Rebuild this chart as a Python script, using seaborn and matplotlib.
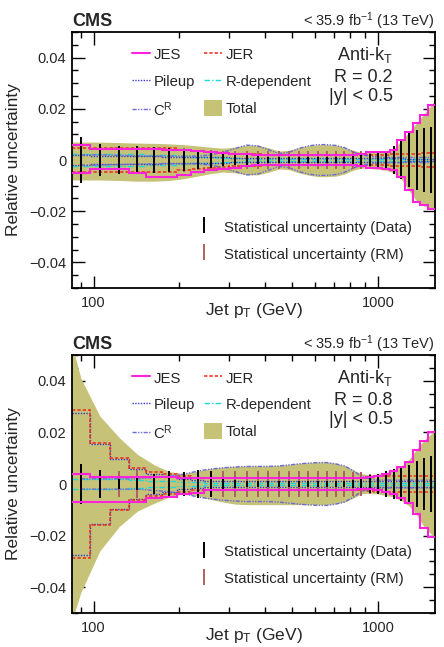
import numpy as np
import pandas as pd
import matplotlib
matplotlib.use("Agg")
import matplotlib.pyplot as plt
import seaborn as sns
from matplotlib.lines import Line2D
from matplotlib.patches import Patch
from matplotlib.ticker import MultipleLocator, FixedLocator, LogLocator, NullFormatter, FuncFormatter

# jet pT bin edges (GeV)
pt_edges = [84, 97, 114, 133, 153, 174, 196, 220, 245, 272, 300, 330, 362, 395, 430, 468,
            507, 548, 592, 638, 686, 737, 790, 846, 905, 967, 1032, 1101, 1172, 1248, 1327,
            1410, 1497, 1588]

# ---- R = 0.2 (values in units of 1e-3) ----
jes_up_r02 = [5.8, 4.2, 4.2, 4.2, 4.2, 4.0, 3.8, 3.5, 3.0, 2.8, 2.5, 2.2, 2.0, 1.8, 1.8, 1.8, 1.8,
              1.8, 1.8, 1.8, 1.8, 1.8, 1.8, 2.5, 3.0, 3.2, 3.3, 4.0, 7.8, 11.0, 14.5, 17.6, 21.6]
jes_dn_r02 = [5.0, 3.7, 3.7, 5.0, 6.5, 6.5, 6.0, 4.5, 4.0, 3.5, 3.0, 2.5, 2.0, 2.0, 2.0, 2.0, 2.0,
              2.0, 2.0, 2.0, 2.0, 2.0, 2.0, 2.5, 3.0, 3.3, 3.5, 4.0, 6.5, 11.8, 16.3, 17.6, 19.0]
jer_r02 = [4.5, 4.5, 4.5, 4.5, 4.8, 4.5, 4.0, 3.5, 3.0, 2.8, 2.5, 2.3, 2.2, 2.0, 2.0, 2.0, 2.0,
           2.0, 2.0, 2.0, 2.0, 2.0, 2.0, 2.0, 2.0, 2.0, 2.0, 2.2, 2.3, 2.4, 2.5, 2.6, 2.7]
pileup_r02 = [1.8, 1.6, 1.5, 1.5, 1.4, 1.3, 1.2, 1.2, 1.0, 1.0, 0.9, 0.9, 0.8, 0.8, 0.8, 0.8, 0.8,
              0.8, 0.8, 0.8, 0.8, 0.8, 0.8, 0.7, 0.7, 0.7, 0.6, 0.6, 0.6, 0.5, 0.5, 0.5, 0.5]
rdep_r02 = [2.5, 2.5, 2.3, 2.2, 2.0, 1.8, 1.5, 1.2, 1.0, 0.8, 0.6, 0.5, 0.5, 0.5, 0.5, 0.5, 0.5,
            0.5, 0.5, 0.5, 0.5, 0.5, 0.5, 0.5, 0.5, 0.5, 0.5, 0.5, 0.5, 0.5, 0.5, 0.5, 0.5]
cr_r02 = [2.0, 2.0, 1.8, 1.6, 1.5, 1.5, 1.5, 1.5, 2.0, 3.0, 4.5, 5.8, 5.5, 4.0, 2.5, 3.0, 4.5,
          5.5, 6.0, 6.0, 5.7, 4.8, 3.2, 2.0, 1.5, 1.2, 1.0, 1.0, 1.0, 1.0, 1.0, 1.0, 1.0]
# total band: first/last entries at the outer bin edges, the rest at bin centres
total_up_r02 = [7.0, 7.0, 7.0, 6.8, 6.6, 6.5, 6.3, 6.0, 5.5, 5.0, 4.6, 5.0, 5.8, 5.8, 4.8, 3.5, 3.8,
                4.8, 5.6, 6.0, 6.0, 5.8, 5.0, 3.8, 3.0, 3.0, 3.3, 3.6, 4.5, 7.5, 11.0, 14.5, 18.0,
                21.5, 23.5]
total_dn_r02 = [7.8, 7.8, 7.8, 8.0, 8.3, 8.3, 8.0, 7.3, 6.3, 5.3, 4.7, 5.0, 5.8, 5.8, 4.8, 3.5, 3.8,
                5.0, 5.9, 6.5, 6.5, 6.3, 5.5, 4.0, 3.2, 3.3, 3.6, 4.0, 5.0, 7.5, 12.0, 16.0, 18.0,
                19.0, 20.0]
stat_data_r02 = [9.0, 6.3, 5.5, 5.4, 5.0, 4.5, 4.3, 3.5, 3.0, 2.5, 2.0, 1.8, 1.5, 1.2, 1.0, 1.0, 1.0,
                 1.0, 1.0, 1.0, 1.0, 1.2, 1.5, 1.8, 2.2, 2.8, 3.5, 5.5, 7.5, 10.5, 11.8, 12.4, 12.7]
stat_rm_r02 = [8.0, 6.0, 5.5, 5.5, 5.0, 4.8, 4.5, 4.0, 3.8, 3.5, 3.5, 3.5, 3.5, 3.5, 3.5, 3.5, 3.5,
               3.5, 3.5, 3.5, 3.5, 3.5, 3.5, 3.5, 3.5, 3.5, 3.5, 3.5, 3.5, 3.5, 3.5, 3.5, 3.5]

# ---- R = 0.8 (values in units of 1e-3) ----
jes_up_r08 = [4.0, 2.7, 2.7, 2.7, 2.7, 2.7, 2.3, 2.2, 2.2, 2.2, 2.2, 2.2, 2.2, 2.2, 2.2, 2.2, 2.2,
              2.2, 2.2, 2.2, 2.2, 2.2, 2.2, 2.5, 2.8, 3.0, 4.0, 5.0, 6.5, 8.5, 13.0, 16.6, 20.0]
jes_dn_r08 = [7.0, 7.0, 7.0, 7.0, 5.5, 5.0, 4.0, 3.3, 2.5, 2.5, 2.5, 2.5, 2.5, 2.5, 2.5, 2.5, 2.5,
              2.5, 2.5, 2.5, 2.5, 2.5, 2.3, 2.0, 2.0, 2.2, 3.0, 4.0, 5.5, 7.5, 11.5, 17.0, 20.5]
jer_r08 = [28.7, 16.0, 10.0, 6.3, 4.7, 3.7, 3.0, 2.5, 2.5, 2.5, 2.5, 2.5, 2.5, 2.5, 2.5, 2.5, 2.5,
           2.5, 2.5, 2.5, 2.5, 2.5, 2.5, 2.5, 2.7, 3.0, 3.0, 3.0, 3.0, 3.0, 3.0, 3.0, 3.0]
pileup_r08 = [27.5, 15.5, 9.5, 6.0, 4.0, 3.0, 2.0, 1.5, 1.2, 1.0, 1.0, 1.0, 1.0, 1.0, 1.0, 1.0, 1.0,
              1.0, 1.0, 1.0, 1.0, 1.0, 1.0, 1.0, 1.0, 1.0, 1.0, 1.0, 1.0, 1.0, 1.0, 1.0, 1.0]
rdep_r08 = [2.0, 2.0, 1.8, 1.5, 1.2, 1.0, 0.8, 0.6, 0.5, 0.5, 0.5, 0.5, 0.5, 0.5, 0.5, 0.5, 0.5,
            0.5, 0.5, 0.5, 0.5, 0.5, 0.5, 0.5, 0.5, 0.5, 0.5, 0.5, 0.5, 0.5, 0.5, 0.5, 0.5]
cr_r08 = [2.0, 2.0, 2.0, 2.0, 2.5, 3.0, 3.8, 5.0, 5.8, 6.3, 6.6, 6.8, 6.8, 6.8, 7.0, 7.4, 7.8,
          8.1, 8.3, 8.3, 7.8, 7.0, 5.2, 3.0, 2.0, 1.5, 1.5, 1.5, 1.5, 1.5, 1.5, 1.5, 1.5]
total_up_r08 = [54.0, 41.0, 26.4, 18.0, 11.5, 7.5, 4.8, 4.0, 5.0, 6.0, 6.5, 6.8, 7.0, 7.0, 7.0, 7.2,
                7.6, 8.0, 8.3, 8.5, 8.5, 8.0, 7.2, 5.5, 4.0, 3.6, 3.8, 4.5, 5.5, 7.0, 9.5, 13.5,
                17.0, 19.5, 21.0]
total_dn_r08 = [53.0, 42.0, 26.0, 16.5, 10.5, 7.5, 5.0, 3.8, 4.5, 6.0, 7.0, 7.8, 8.0, 8.0, 8.0, 8.0,
                8.0, 8.0, 8.0, 8.0, 8.0, 7.6, 7.0, 5.5, 3.8, 3.5, 3.8, 4.5, 5.0, 6.5, 8.5, 12.0,
                16.5, 19.5, 21.0]
stat_data_r08 = [7.8, 5.5, 2.0, 2.5, 4.0, 5.0, 4.8, 5.5, 5.0, 2.0, 1.5, 1.3, 1.2, 1.2, 1.2, 1.0, 1.0,
                 1.0, 1.0, 1.0, 1.0, 1.2, 1.5, 2.5, 3.5, 4.0, 5.0, 6.0, 6.5, 7.5, 9.0, 10.0, 11.0]
stat_rm_r08 = [7.5, 5.0, 5.0, 5.5, 3.0, 4.0, 4.0, 4.0, 4.5, 5.0, 5.0, 5.0, 5.0, 5.0, 5.0, 5.0, 5.0,
               5.0, 5.0, 5.0, 5.0, 5.0, 4.5, 4.5, 4.0, 4.0, 4.0, 4.0, 4.0, 4.0, 4.0, 4.0, 4.0]

# 🎨 Estilo
sns.set_theme(style="ticks")
plt.rcParams["font.family"] = ["Liberation Sans", "DejaVu Sans"]
plt.rcParams["mathtext.fontset"] = "custom"
plt.rcParams["mathtext.rm"] = "Liberation Sans"
plt.rcParams["mathtext.it"] = "Liberation Sans:italic"
plt.rcParams["mathtext.bf"] = "Liberation Sans:bold"

c_jes = "#ff22dd"
c_jer = "#ee2a1a"
c_pu = "#3a3ad0"
c_rdep = "#22d8d8"
c_cr = "#6a6ad8"
c_total = "#c6c278"
c_stat_rm = "#b06060"

ls_jer = (0, (2.2, 1.3))
ls_pu = (0, (1, 1))
ls_rdep = (0, (4, 1.5, 1, 1.5))
ls_cr = (0, (3, 1, 1, 1, 1, 1))

edges = np.array(pt_edges, dtype=float)
centers = np.sqrt(edges[:-1] * edges[1:])
band_pt = np.concatenate([[edges[0]], centers, [edges[-1]]])


def draw_panel(ax, jes_up, jes_dn, jer, pu, rdep, cr, tot_up, tot_dn, st_data, st_rm, rlabel):
    s = 1e-3
    ax.fill_between(band_pt, -np.array(tot_dn) * s, np.array(tot_up) * s,
                    color=c_total, lw=0, zorder=1)
    for vals, col, ls, lw in [(rdep, c_rdep, ls_rdep, 1.0), (pu, c_pu, ls_pu, 1.0), (jer, c_jer, ls_jer, 1.1)]:
        v = np.array(vals) * s
        ax.stairs(v, edges, baseline=None, color=col, ls=ls, lw=lw, zorder=2)
        ax.stairs(-v, edges, baseline=None, color=col, ls=ls, lw=lw, zorder=2)
    cr_df = pd.DataFrame({"pt": centers, "up": np.array(cr) * s, "dn": -np.array(cr) * s})
    sns.lineplot(data=cr_df, x="pt", y="up", ax=ax, color=c_cr, lw=1.0, dashes=False, zorder=2)
    sns.lineplot(data=cr_df, x="pt", y="dn", ax=ax, color=c_cr, lw=1.0, dashes=False, zorder=2)
    for ln in ax.lines[-2:]:
        ln.set_linestyle(ls_cr)
    ax.vlines(centers, -np.array(st_rm) * s, np.array(st_rm) * s, color=c_stat_rm, lw=1.4, zorder=3)
    ax.vlines(centers, -np.array(st_data) * s, np.array(st_data) * s, color="black", lw=1.4, zorder=4)
    ax.stairs(np.array(jes_up) * s, edges, baseline=None, color=c_jes, lw=1.5, zorder=5)
    ax.stairs(-np.array(jes_dn) * s, edges, baseline=None, color=c_jes, lw=1.5, zorder=5)

    ax.set_xscale("log")
    ax.set_xlim(edges[0], edges[-1])
    ax.set_ylim(-0.05, 0.05)
    ax.xaxis.set_major_locator(FixedLocator([100, 1000]))
    ax.xaxis.set_major_formatter(FuncFormatter(lambda v, _: f"{v:.0f}"))
    ax.xaxis.set_minor_locator(LogLocator(base=10, subs=np.arange(2, 10)))
    ax.xaxis.set_minor_formatter(NullFormatter())
    ax.yaxis.set_major_locator(MultipleLocator(0.02))
    ax.yaxis.set_minor_locator(MultipleLocator(0.005))
    ax.yaxis.set_major_formatter(FuncFormatter(
        lambda v, _: "0" if abs(v) < 1e-9 else f"{v:.2f}".replace("-", "\u2212")))
    ax.tick_params(which="both", direction="in", top=True, right=True, labelsize=10.5,
                   width=1.0, color="black")
    ax.tick_params(which="major", length=9)
    ax.tick_params(which="minor", length=4.5)
    ax.tick_params(axis="x", which="major", pad=6)
    ax.tick_params(axis="y", which="major", pad=4)
    for sp in ax.spines.values():
        sp.set_linewidth(1.3)
        sp.set_color("black")

    ax.set_ylabel("Relative uncertainty", fontsize=12.5)
    ax.yaxis.set_label_coords(-0.14, 0.5)
    ax.set_xlabel("Jet p$_\\mathrm{T}$ (GeV)", fontsize=12.5)
    ax.xaxis.set_label_coords(0.5, -0.05)
    ax.xaxis.label.set_va("top")

    ax.text(0.0, 1.022, "CMS", transform=ax.transAxes, fontsize=13, fontweight="bold",
            ha="left", va="baseline")
    ax.text(1.0, 1.022, "< 35.9 fb$^{-1}$ (13 TeV)", transform=ax.transAxes, fontsize=10.5,
            ha="right", va="baseline")
    ax.text(0.884, 0.89, "Anti-k$_\\mathrm{T}$", transform=ax.transAxes, fontsize=13,
            ha="right", va="baseline")
    ax.text(0.884, 0.806, rlabel, transform=ax.transAxes, fontsize=13, ha="right", va="baseline")
    ax.text(0.884, 0.732, "|y| < 0.5", transform=ax.transAxes, fontsize=13, ha="right", va="baseline")

    handles = [Line2D([], [], color=c_jes, lw=1.5),
               Line2D([], [], color=c_pu, lw=1.0, ls=ls_pu),
               Line2D([], [], color=c_cr, lw=1.0, ls=ls_cr),
               Line2D([], [], color=c_jer, lw=1.1, ls=ls_jer),
               Line2D([], [], color=c_rdep, lw=1.0, ls=ls_rdep),
               Patch(facecolor=c_total, edgecolor="none")]
    labels = ["JES", "Pileup", "C$^\\mathrm{R}$", "JER", "R-dependent", "Total"]
    leg1 = ax.legend(handles, labels, ncol=2, loc="upper left", bbox_to_anchor=(0.165, 0.944),
                     frameon=False, fontsize=10.7, handlelength=1.25, handleheight=1.3,
                     handletextpad=0.2, columnspacing=0.6, labelspacing=0.72,
                     borderpad=0, borderaxespad=0)
    ax.add_artist(leg1)
    h2 = [Line2D([], [], color="black", marker="|", ls="none", markersize=11, markeredgewidth=1.4),
          Line2D([], [], color=c_stat_rm, marker="|", ls="none", markersize=11, markeredgewidth=1.4)]
    ax.legend(h2, ["Statistical uncertainty (Data)", "Statistical uncertainty (RM)"],
              loc="upper left", bbox_to_anchor=(0.344, 0.271), frameon=False, fontsize=10.8,
              handlelength=1.0, handleheight=1.3, handletextpad=0.8, labelspacing=0.72,
              borderpad=0, borderaxespad=0)


fig = plt.figure(figsize=(4.44, 6.47), dpi=100)
ax1 = fig.add_axes([72 / 444, 359 / 647, 363 / 444, 256 / 647])
ax2 = fig.add_axes([72 / 444, 34 / 647, 363 / 444, 258 / 647])

draw_panel(ax1, jes_up_r02, jes_dn_r02, jer_r02, pileup_r02, rdep_r02, cr_r02,
           total_up_r02, total_dn_r02, stat_data_r02, stat_rm_r02, "R = 0.2")
draw_panel(ax2, jes_up_r08, jes_dn_r08, jer_r08, pileup_r08, rdep_r08, cr_r08,
           total_up_r08, total_dn_r08, stat_data_r08, stat_rm_r08, "R = 0.8")

fig.savefig("out.png", dpi=100)
